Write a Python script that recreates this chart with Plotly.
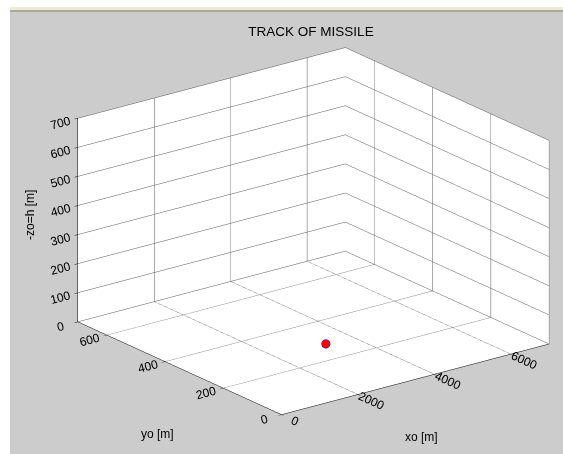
import plotly.graph_objects as go

# Data
x_pt = [3100]
y_pt = [255]
z_pt = [20]

x_ticks = [0, 2000, 4000, 6000]
y_ticks = [0, 200, 400, 600]
z_ticks = [0, 100, 200, 300, 400, 500, 600, 700]
x_range = [0, 7000]
y_range = [0, 700]
z_range = [0, 700]

fig = go.Figure()
fig.add_trace(go.Scatter3d(x=x_pt, y=y_pt, z=z_pt, mode="markers",
                           marker=dict(size=5, color="red", line=dict(color="blue", width=1)),
                           showlegend=False))

FONT = "Liberation Sans, Arial, sans-serif"
font = dict(family=FONT, size=12, color="black")
def ax(rng, tv):
    return dict(title=dict(text=""), range=rng, tickvals=tv,
                tickfont=font, showgrid=True, gridcolor="#555555", gridwidth=1,
                zeroline=False,
                showbackground=True, backgroundcolor="white",
                showline=True, linecolor="black", linewidth=1,
                ticks="outside", tickcolor="black", ticklen=4,
                showspikes=False, autorange=False)

# camera geometry
k = 1.508
view = (-0.568, -0.746, 0.347)
ctr = (-0.113, 0.088, 0.0)
r = 1.5
eye = dict(x=ctr[0] + r * view[0], y=ctr[1] + r * view[1], z=ctr[2] + r * view[2])

fig.update_layout(
    width=563, height=454,
    margin=dict(l=0, r=0, t=0, b=0),
    paper_bgcolor="white",
    title=dict(text="TRACK OF MISSILE", x=311/563, xanchor="center",
               y=1 - 31/454, yanchor="middle", yref="container",
               font=dict(family=FONT, size=13.5, color="black")),
    shapes=[
        dict(type="rect", xref="paper", yref="paper", x0=10/563, x1=1, y0=0, y1=1 - 12/454,
             fillcolor="#cccccc", line=dict(width=0), layer="below"),
        dict(type="rect", xref="paper", yref="paper", x0=10/563, x1=1, y0=1 - 10/454, y1=1 - 7/454,
             fillcolor="#ece9d8", line=dict(width=0), layer="below"),
        dict(type="rect", xref="paper", yref="paper", x0=10/563, x1=1, y0=1 - 12/454, y1=1 - 10/454,
             fillcolor="#aca899", line=dict(width=0), layer="below"),
    ],
    annotations=[
        dict(text="-zo=h [m]", x=30/563, y=1 - 215/454, xref="paper", yref="paper",
             showarrow=False, textangle=-90, font=font, xanchor="center", yanchor="middle"),
        dict(text="yo [m]", x=157/563, y=1 - 434/454, xref="paper", yref="paper",
             showarrow=False, font=font, xanchor="center", yanchor="middle"),
        dict(text="xo [m]", x=421/563, y=1 - 437/454, xref="paper", yref="paper",
             showarrow=False, font=font, xanchor="center", yanchor="middle"),
    ],
    scene=dict(
        domain=dict(x=[0.0, 1.0], y=[0.0, 0.982]),
        xaxis=ax(x_range, x_ticks),
        yaxis=ax(y_range, y_ticks),
        zaxis=ax(z_range, z_ticks),
        aspectmode="manual",
        aspectratio=dict(x=k, y=k, z=0.6455 * k),
        bgcolor="rgba(0,0,0,0)",
        camera=dict(projection=dict(type="orthographic"),
                    eye=eye, up=dict(x=0, y=0, z=1),
                    center=dict(x=ctr[0], y=ctr[1], z=ctr[2])),
    ),
)

fig.write_html("out.html", config={"displayModeBar": False},
               post_script="document.body.style.margin='0';")
